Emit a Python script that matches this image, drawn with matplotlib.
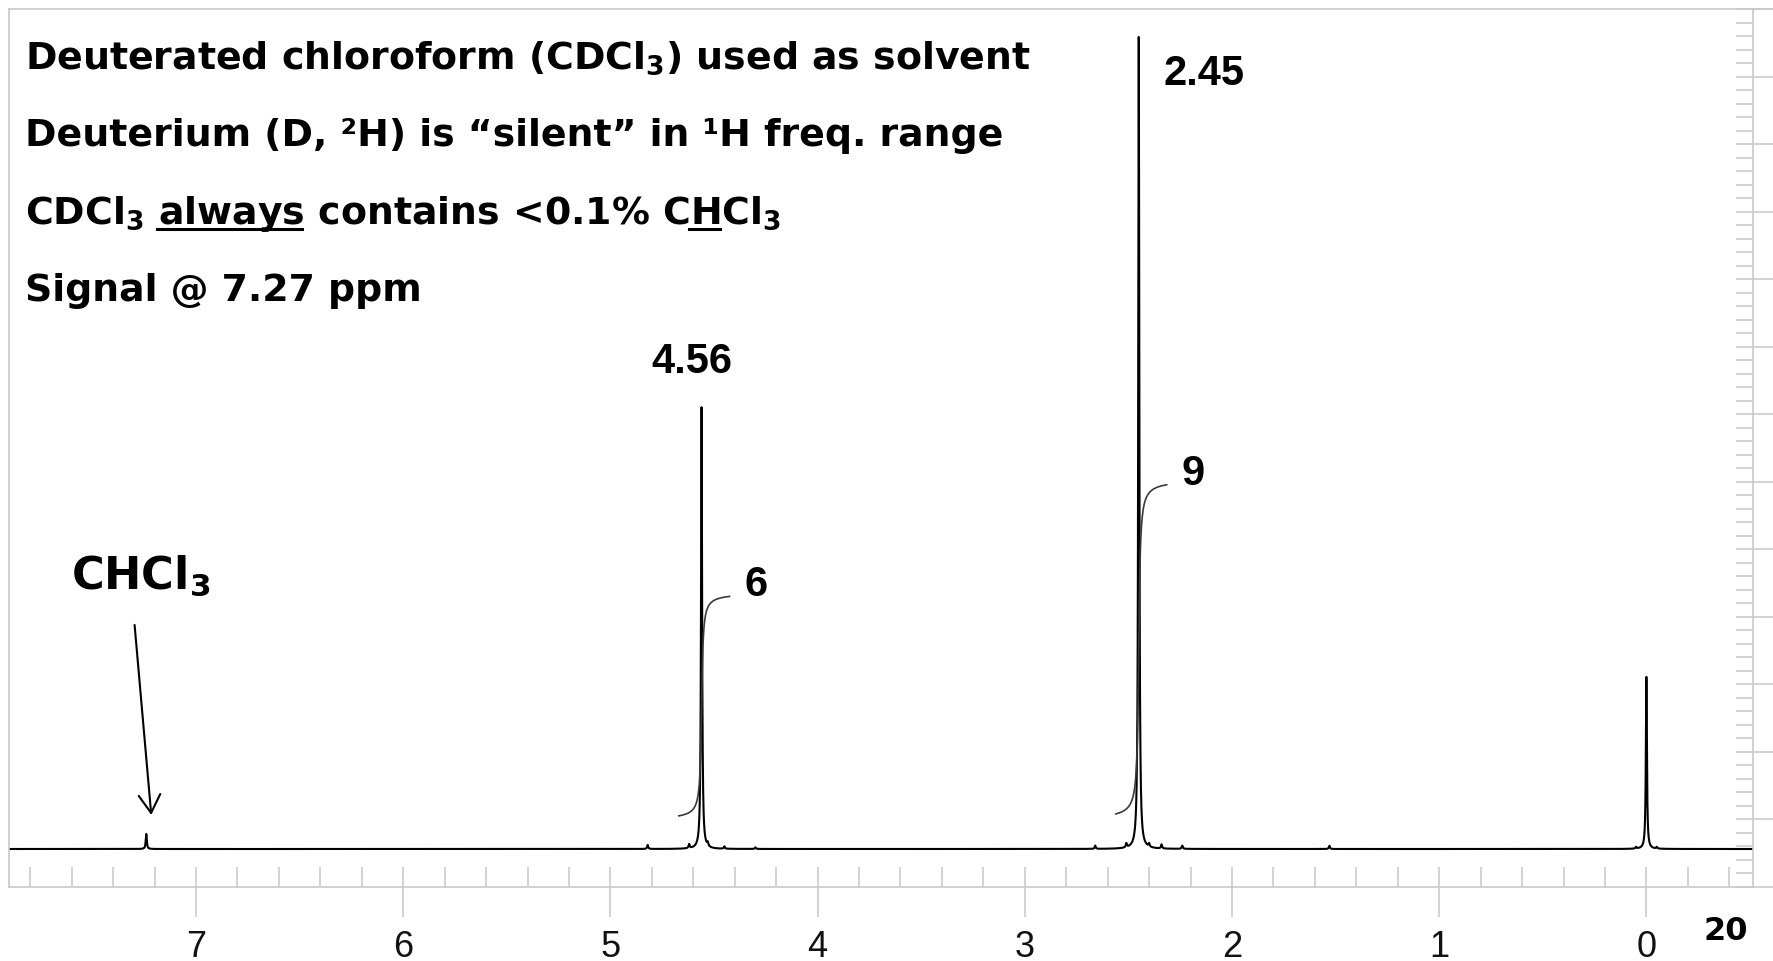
"""1H NMR spectrum in CDCl3 with the residual CHCl3 signal pointed out."""

import matplotlib
matplotlib.use("Agg")  # headless
import matplotlib.pyplot as plt
import numpy as np
from matplotlib.lines import Line2D
from matplotlib.ticker import MultipleLocator, FuncFormatter
from matplotlib.transforms import ScaledTranslation

# ---- data ----
# main signals: chemical shift (ppm) and height (tallest peak = 100)
PEAK_PPM = [7.24, 4.56, 2.45, 0.00]
PEAK_HEIGHT = [1.85, 54.4, 100.0, 21.2]

# small satellite / impurity bumps
MINOR_PPM = [4.82, 4.62, 4.53, 4.45, 4.30, 2.66, 2.51, 2.40, 2.34, 2.24, 1.53, 0.05, -0.05]
MINOR_HEIGHT = [0.5, 0.5, 0.4, 0.3, 0.2, 0.4, 0.5, 0.4, 0.5, 0.4, 0.4, 0.2, 0.2]

# shift labels over the big peaks
SHIFT_LABELS = ["4.56", "2.45"]
SHIFT_PPM = [4.56, 2.45]
SHIFT_OFFSET_PT = [(-7.1, 24.9), (47.1, -34.3)]

# integrals (number of H)
INTEGRAL_PPM = [4.56, 2.45]
INTEGRAL_H = [6, 9]

SOLVENT_PPM = 7.24
TEXT_LINES = [
    "Deuterated chloroform (CDCl$_3$) used as solvent",
    "Deuterium (D, ²H) is “silent” in ¹H freq. range",
    "CDCl$_3$ always contains <0.1% CHCl$_3$",
    "Signal @ 7.27 ppm",
]
# (prefix, underlined word) on the third line
UNDERLINES = [("CDCl$_3$ ", "always"), ("CDCl$_3$ always contains <0.1% C", "H")]
PAGE_NO = "20"

# ---- layout ----
W, H = 1774, 961
GRAY = "#c8c8c8"
XLIM = (7.901, -0.516)
YLIM = (-4.68, 103.45)
GAMMA = 0.003        # line half-width, ppm
GAMMA_INT = 0.006    # integral step width, ppm
INT_BASE = 3.6       # integral trace start above baseline
UNITS_PER_H = 4.65
TEXT_SIZE = 27.3

plt.rcParams["font.family"] = "Liberation Sans"
plt.rcParams["mathtext.fontset"] = "dejavusans"
plt.rcParams["mathtext.default"] = "bf"
TAHOMA = dict(family="DejaVu Sans", fontweight="bold")
ARIAL_B = dict(family="Liberation Sans", fontweight="bold")


def main() -> None:
    fig = plt.figure(figsize=(W / 100, H / 100), dpi=100, facecolor="white")
    ax = fig.add_axes([9.3 / W, 1 - 887 / H, (1753.3 - 9.3) / W, 878 / H])
    ax.set_xlim(XLIM)
    ax.set_ylim(YLIM)

    # spectrum: sum of narrow lorentzians at the tabulated peaks
    ppm_all = np.array(PEAK_PPM + MINOR_PPM)
    h_all = np.array(PEAK_HEIGHT + MINOR_HEIGHT)
    x = np.sort(np.concatenate([np.linspace(XLIM[1], XLIM[0], 24000), ppm_all]))[::-1]
    y = np.zeros_like(x)
    for p, h in zip(ppm_all, h_all):
        y += h / (1 + ((x - p) / GAMMA) ** 2)
    ax.plot(x, y, color="black", lw=1.5, solid_joinstyle="round")

    # integral traces
    for p, n in zip(INTEGRAL_PPM, INTEGRAL_H):
        xs = np.linspace(p + 0.11, p - 0.135, 500)
        frac = 0.5 + np.arctan((p - xs) / GAMMA_INT) / np.pi
        ys = INT_BASE + n * UNITS_PER_H * frac
        ax.plot(xs, ys, color="#3a3a3a", lw=1.2)
        ax.annotate(str(n), xy=(xs[-1], ys[-1]), xytext=(19, 0),
                    textcoords="offset points", ha="center", va="baseline",
                    fontsize=30, **ARIAL_B)

    # chemical shift labels
    heights = dict(zip(PEAK_PPM, PEAK_HEIGHT))
    for lab, p, off in zip(SHIFT_LABELS, SHIFT_PPM, SHIFT_OFFSET_PT):
        ax.annotate(lab, xy=(p, heights[p]), xytext=off, textcoords="offset points",
                    ha="center", va="baseline", fontsize=30, **ARIAL_B)

    # solvent label + arrow
    hs = heights[SOLVENT_PPM]
    ax.annotate("CHCl$_3$", xy=(SOLVENT_PPM, hs), xytext=(-4.1, 176.2),
                textcoords="offset points", ha="center", va="baseline",
                fontsize=32, **TAHOMA)
    tip = ax.transData + ScaledTranslation(3.6 / 72, 13.7 / 72, fig.dpi_scale_trans)
    tail = ax.transData + ScaledTranslation(-8.4 / 72, 150.5 / 72, fig.dpi_scale_trans)
    ax.annotate("", xy=(SOLVENT_PPM, hs), xycoords=tip,
                xytext=(SOLVENT_PPM, hs), textcoords=tail,
                arrowprops=dict(arrowstyle="->,head_length=0.65,head_width=0.39",
                                mutation_scale=20, lw=1.5, color="black",
                                shrinkA=0, shrinkB=0))

    # ruler-style axes
    for s in ax.spines.values():
        s.set_color(GRAY)
        s.set_linewidth(1.2)
    fig.add_artist(Line2D([1753.3 / W, 1], [1 - 9 / H, 1 - 9 / H],
                          transform=fig.transFigure, color=GRAY, lw=1.2))

    ax.xaxis.set_major_locator(MultipleLocator(1))
    ax.xaxis.set_minor_locator(MultipleLocator(0.2))
    ax.xaxis.remove_overlapping_locs = False
    ax.xaxis.set_major_formatter(FuncFormatter(lambda v, _: f"{int(round(v))}"))
    ax.tick_params(axis="x", which="major", direction="out", length=21.6, width=1.1,
                   color=GRAY, labelsize=26, pad=9.5, labelcolor="#111111")
    ax.tick_params(axis="x", which="minor", direction="in", length=14.4, width=1.1,
                   color=GRAY)

    step = 67.5 / 8.12
    ax.yaxis.set_major_locator(MultipleLocator(step, offset=3.66))
    ax.yaxis.set_minor_locator(MultipleLocator(step / 5, offset=3.66))
    ax.yaxis.remove_overlapping_locs = False
    ax.tick_params(axis="y", which="both", left=False, right=True,
                   labelleft=False, labelright=False, color=GRAY, width=1.1)
    ax.tick_params(axis="y", which="major", direction="out", length=20)
    ax.tick_params(axis="y", which="minor", direction="in", length=12)

    # explanatory text block
    renderer = fig.canvas.get_renderer()

    def width(s):
        t = fig.text(0, 0, s, fontsize=TEXT_SIZE, **TAHOMA)
        w = t.get_window_extent(renderer).width
        t.remove()
        return w

    def adv(s):
        return width("I" + s + "I") - width("II")

    x0 = 25
    baselines = [69, 146.5, 224, 301.5]
    for line, yb in zip(TEXT_LINES, baselines):
        fig.text(x0 / W, 1 - yb / H, line, fontsize=TEXT_SIZE, va="baseline", **TAHOMA)
    yu = 1 - (baselines[2] + 5) / H
    for prefix, word in UNDERLINES:
        xa = x0 + adv(prefix)
        xb = xa + adv(word)
        fig.add_artist(Line2D([xa / W, xb / W], [yu, yu], transform=fig.transFigure,
                              color="black", lw=2.2))

    fig.text(1725.7 / W, 1 - 931.7 / H, PAGE_NO, ha="center", va="center",
             fontsize=23, **TAHOMA)

    fig.savefig("out.png", dpi=100)
    plt.close(fig)


if __name__ == "__main__":
    main()
